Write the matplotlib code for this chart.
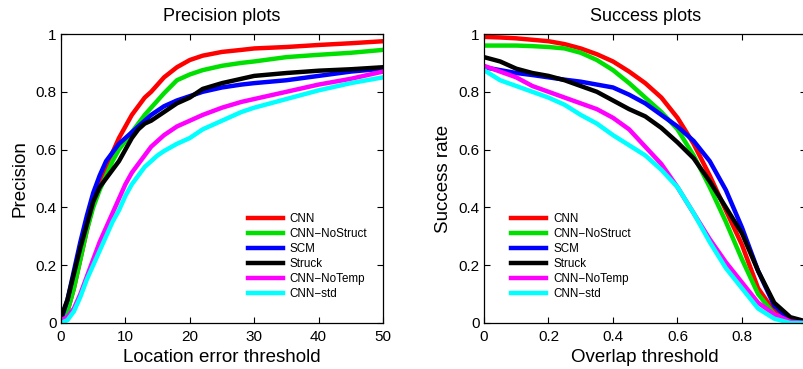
import matplotlib
matplotlib.use("Agg")
import matplotlib.pyplot as plt

plt.rcParams['font.family'] = ['Liberation Sans', 'DejaVu Sans']

names = ["CNN", "CNN\u2212NoStruct", "SCM", "Struck", "CNN\u2212NoTemp", "CNN\u2212std"]
colors = ["#ff0000", "#00e000", "#0000ff", "#000000", "#ff00ff", "#00ffff"]

# precision plot: location error threshold (pixels)
prec_x = [0, 1, 2, 3, 4, 5, 6, 7, 8, 9, 10, 11, 12, 13, 14, 15, 16, 18, 20, 22, 25, 28, 30, 35, 40, 45, 50]
prec_cnn = [0.01, 0.04, 0.12, 0.22, 0.32, 0.41, 0.48, 0.54, 0.59, 0.64, 0.68, 0.72, 0.75, 0.78, 0.80, 0.825, 0.85, 0.885, 0.91, 0.925, 0.938, 0.945, 0.95, 0.955, 0.962, 0.968, 0.975]
prec_nostruct = [0.01, 0.04, 0.12, 0.22, 0.32, 0.40, 0.46, 0.51, 0.56, 0.60, 0.63, 0.66, 0.69, 0.72, 0.745, 0.77, 0.795, 0.84, 0.86, 0.875, 0.89, 0.90, 0.905, 0.92, 0.928, 0.935, 0.945]
prec_scm = [0.01, 0.08, 0.18, 0.28, 0.37, 0.45, 0.51, 0.56, 0.59, 0.62, 0.64, 0.66, 0.68, 0.70, 0.72, 0.735, 0.75, 0.77, 0.785, 0.80, 0.815, 0.825, 0.83, 0.84, 0.855, 0.87, 0.88]
prec_struck = [0.02, 0.08, 0.17, 0.26, 0.34, 0.42, 0.47, 0.50, 0.53, 0.56, 0.60, 0.64, 0.67, 0.69, 0.70, 0.715, 0.73, 0.76, 0.78, 0.81, 0.83, 0.845, 0.855, 0.865, 0.873, 0.878, 0.885]
prec_notemp = [0.01, 0.02, 0.05, 0.10, 0.16, 0.22, 0.28, 0.33, 0.38, 0.43, 0.48, 0.52, 0.55, 0.58, 0.61, 0.63, 0.65, 0.68, 0.70, 0.72, 0.745, 0.765, 0.775, 0.80, 0.825, 0.845, 0.87]
prec_std = [0.0, 0.01, 0.04, 0.09, 0.15, 0.20, 0.25, 0.30, 0.35, 0.39, 0.44, 0.48, 0.51, 0.54, 0.56, 0.58, 0.595, 0.62, 0.64, 0.67, 0.70, 0.73, 0.745, 0.775, 0.805, 0.83, 0.85]

# success plot: overlap threshold
succ_x = [0, 0.05, 0.1, 0.15, 0.2, 0.25, 0.3, 0.35, 0.4, 0.45, 0.5, 0.55, 0.6, 0.65, 0.7, 0.75, 0.8, 0.85, 0.9, 0.95, 1.0]
succ_cnn = [0.99, 0.988, 0.985, 0.98, 0.975, 0.965, 0.95, 0.93, 0.905, 0.87, 0.83, 0.78, 0.71, 0.62, 0.51, 0.39, 0.27, 0.12, 0.04, 0.01, 0.0]
succ_nostruct = [0.96, 0.96, 0.96, 0.958, 0.955, 0.95, 0.935, 0.91, 0.875, 0.83, 0.78, 0.73, 0.67, 0.58, 0.47, 0.35, 0.22, 0.10, 0.03, 0.005, 0.0]
succ_scm = [0.885, 0.875, 0.865, 0.858, 0.85, 0.842, 0.835, 0.825, 0.815, 0.79, 0.76, 0.72, 0.68, 0.63, 0.56, 0.46, 0.33, 0.18, 0.06, 0.01, 0.0]
succ_struck = [0.92, 0.905, 0.88, 0.865, 0.855, 0.84, 0.82, 0.80, 0.77, 0.74, 0.715, 0.675, 0.625, 0.57, 0.49, 0.40, 0.31, 0.18, 0.07, 0.02, 0.005]
succ_notemp = [0.89, 0.87, 0.85, 0.82, 0.80, 0.78, 0.76, 0.74, 0.71, 0.67, 0.61, 0.55, 0.47, 0.38, 0.29, 0.21, 0.14, 0.07, 0.03, 0.005, 0.0]
succ_std = [0.875, 0.84, 0.82, 0.80, 0.78, 0.755, 0.72, 0.69, 0.65, 0.615, 0.58, 0.53, 0.47, 0.38, 0.28, 0.19, 0.12, 0.05, 0.015, 0.0, 0.0]

prec_series = [prec_cnn, prec_nostruct, prec_scm, prec_struck, prec_notemp, prec_std]
succ_series = [succ_cnn, succ_nostruct, succ_scm, succ_struck, succ_notemp, succ_std]

fig = plt.figure(figsize=(8.04, 3.69), dpi=100)
ax1 = fig.add_axes([61 / 804, 46 / 369, 322 / 804, 289 / 369])
ax2 = fig.add_axes([484 / 804, 46 / 369, 322.5 / 804, 289 / 369])

for y, c, n in zip(prec_series, colors, names):
    ax1.plot(prec_x, y, color=c, lw=3.2, label=n)
for y, c, n in zip(succ_series, colors, names):
    ax2.plot(succ_x, y, color=c, lw=3.2, label=n)

ax1.set_xlim(0, 50)
ax1.set_xticks([0, 10, 20, 30, 40, 50])
ax2.set_xlim(0, 1)
ax2.set_xticks([0, 0.2, 0.4, 0.6, 0.8, 1.0])
# the "1" label falls outside the picture in the original
ax2.set_xticklabels(["0", "0.2", "0.4", "0.6", "0.8", ""])

for ax in (ax1, ax2):
    ax.set_ylim(0, 1)
    ax.set_yticks([0, 0.2, 0.4, 0.6, 0.8, 1.0])
    ax.set_yticklabels(["0", "0.2", "0.4", "0.6", "0.8", "1"])
    ax.tick_params(direction="in", length=4, width=0.8, top=True, right=True,
                   labelsize=11, pad=3)
    ax.tick_params(axis="x", pad=5)
    for s in ax.spines.values():
        s.set_linewidth(0.9)
    ax.legend(loc="upper left", frameon=False, fontsize=8.4, handlelength=3.0,
              handletextpad=0.6, labelspacing=0.25, borderpad=0, borderaxespad=0,
              bbox_to_anchor=(0.58, 0.38) if ax is ax1 else (0.085, 0.38))

ax1.set_title("Precision plots", fontsize=13, pad=9.5)
ax2.set_title("Success plots", fontsize=13, pad=9.5)
ax1.set_xlabel("Location error threshold", fontsize=13.5, labelpad=4)
ax1.set_ylabel("Precision", fontsize=13.5, labelpad=5)
ax2.set_xlabel("Overlap threshold", fontsize=13.5, labelpad=4)
ax2.set_ylabel("Success rate", fontsize=13.5, labelpad=5)

fig.savefig("out.png", dpi=100)
